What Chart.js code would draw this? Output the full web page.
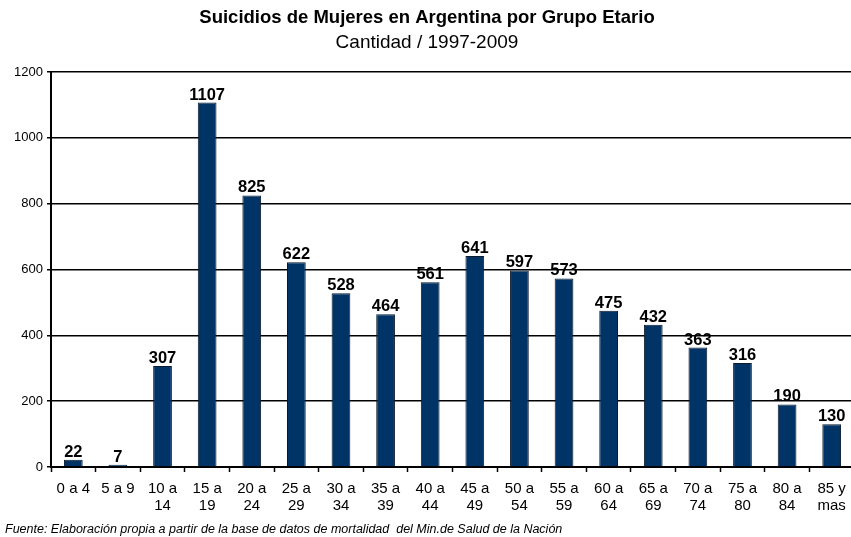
<!DOCTYPE html>
<html>
<head>
<meta charset="utf-8">
<script src="https://cdn.jsdelivr.net/npm/chart.js@4/dist/chart.umd.min.js"></script>
<style>
  html, body { margin: 0; padding: 0; background: #fff; overflow: hidden; }
  #wrap { width: 855px; height: 537px; }
</style>
</head>
<body>
<div id="wrap"><canvas id="chart" width="855" height="537"></canvas></div>
<script>
const grupos = [
  ['0 a 4'], ['5 a 9'], ['10 a', '14'], ['15 a', '19'], ['20 a', '24'], ['25 a', '29'],
  ['30 a', '34'], ['35 a', '39'], ['40 a', '44'], ['45 a', '49'], ['50 a', '54'], ['55 a', '59'],
  ['60 a', '64'], ['65 a', '69'], ['70 a', '74'], ['75 a', '80'], ['80 a', '84'], ['85 y', 'mas']
];
const suicidios = [22, 7, 307, 1107, 825, 622, 528, 464, 561, 641, 597, 573, 475, 432, 363, 316, 190, 130];
const yTicks = [0, 200, 400, 600, 800, 1000, 1200];

const titulo = 'Suicidios de Mujeres en Argentina por Grupo Etario';
const subtitulo = 'Cantidad / 1997-2009';
const fuente = 'Fuente: Elaboración propia a partir de la base de datos de mortalidad  del Min.de Salud de la Nación';

const fontFamily = '"Liberation Sans", Arial, sans-serif';

// etiquetas de valor sobre cada barra
const valueLabels = {
  id: 'valueLabels',
  afterDatasetsDraw(chart) {
    const ctx = chart.ctx;
    const meta = chart.getDatasetMeta(0);
    ctx.save();
    ctx.font = 'bold 16.5px ' + fontFamily;
    ctx.fillStyle = '#000';
    ctx.textAlign = 'center';
    ctx.textBaseline = 'alphabetic';
    meta.data.forEach((bar, i) => {
      ctx.fillText(String(suicidios[i]), bar.x, bar.y - 3);
    });
    ctx.restore();
  }
};

// nota al pie
const footnote = {
  id: 'footnote',
  afterDraw(chart) {
    const ctx = chart.ctx;
    ctx.save();
    ctx.font = 'italic 12.5px ' + fontFamily;
    ctx.fillStyle = '#000';
    ctx.textAlign = 'left';
    ctx.textBaseline = 'middle';
    ctx.fillText(fuente, 5, 530);
    ctx.restore();
  }
};

new Chart(document.getElementById('chart'), {
  type: 'bar',
  data: {
    labels: grupos,
    datasets: [{
      data: suicidios,
      backgroundColor: '#003366',
      borderColor: '#0a1a2a',
      borderWidth: 1,
      categoryPercentage: 1,
      barPercentage: 0.42
    }]
  },
  options: {
    responsive: false,
    animation: false,
    layout: { padding: { left: 0, right: 1, top: 0, bottom: 20 } },
    plugins: {
      legend: { display: false },
      tooltip: { enabled: false },
      title: {
        display: true,
        text: titulo,
        color: '#000',
        font: { family: fontFamily, size: 18.5, weight: 'bold', lineHeight: 1.2 },
        padding: { top: 7, bottom: 0 }
      },
      subtitle: {
        display: true,
        text: subtitulo,
        color: '#000',
        font: { family: fontFamily, size: 19, lineHeight: 1.2 },
        padding: { top: 2.4, bottom: 17.6 }
      }
    },
    scales: {
      x: {
        offset: true,
        grid: {
          offset: true,
          drawOnChartArea: false,
          color: '#000',
          tickLength: 5,
          tickWidth: 1.5
        },
        border: { color: '#000', width: 2 },
        ticks: {
          color: '#000',
          font: { family: fontFamily, size: 15, lineHeight: 1.15 },
          padding: 8,
          maxRotation: 0,
          autoSkip: false
        },
        afterFit(scale) { scale.height = 50; }
      },
      y: {
        min: 0,
        max: 1200,
        afterBuildTicks(scale) { scale.ticks = yTicks.map(v => ({ value: v })); },
        grid: { color: '#000', lineWidth: 1.5, tickLength: 4 },
        border: { color: '#000', width: 2 },
        ticks: {
          color: '#000',
          font: { family: fontFamily, size: 13 },
          padding: 4,
          callback: value => String(value)
        },
        afterFit(scale) { scale.width = 51; }
      }
    }
  },
  plugins: [valueLabels, footnote]
});
</script>
</body>
</html>
